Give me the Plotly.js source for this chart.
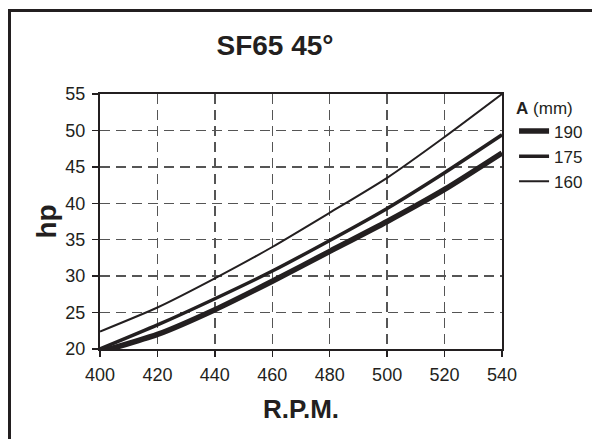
<!DOCTYPE html>
<html>
<head>
<meta charset="utf-8">
<script src="https://cdn.plot.ly/plotly-3.0.1.min.js"></script>
<style>
html,body{margin:0;padding:0;background:#fff;}
#chart{width:592px;height:439px;}
</style>
</head>
<body>
<div id="chart"></div>
<script>
// Data
var rpm = [400, 420, 440, 460, 480, 500, 520, 540];
var hp190 = [19.6, 22.0, 25.4, 29.3, 33.4, 37.5, 41.9, 46.9];
var hp175 = [20.0, 23.3, 26.9, 30.7, 34.9, 39.3, 44.2, 49.4];
var hp160 = [22.4, 25.7, 29.7, 34.0, 38.7, 43.5, 49.1, 55.0];
var seriesNames = ['190', '175', '160'];
var xTicks = [400, 420, 440, 460, 480, 500, 520, 540];
var yTicks = [20, 25, 30, 35, 40, 45, 50, 55];

var ink = '#231f20';
var fontReg = 'Liberation Sans, Arial, sans-serif';
var fontNarrow = 'Liberation Sans Narrow, Liberation Sans, Arial, sans-serif';

var data = [
  {x: rpm, y: hp190, name: seriesNames[0], mode: 'lines', line: {color: ink, width: 5.5, shape: 'spline', smoothing: 0.6}},
  {x: rpm, y: hp175, name: seriesNames[1], mode: 'lines', line: {color: ink, width: 3.5, shape: 'spline', smoothing: 0.6}},
  {x: rpm, y: hp160, name: seriesNames[2], mode: 'lines', line: {color: ink, width: 2, shape: 'spline', smoothing: 0.6}}
];

var layout = {
  width: 592, height: 439,
  margin: {l: 100, r: 90, t: 94, b: 90, pad: 0, autoexpand: false},
  paper_bgcolor: '#fff', plot_bgcolor: '#fff',
  font: {family: fontReg, size: 18, color: ink},
  title: {text: '<b>SF65 45°</b>', x: 275/592, xref: 'container', xanchor: 'center',
          y: 1 - 45/439, yref: 'container', yanchor: 'middle',
          font: {family: fontNarrow, size: 28, color: ink}},
  xaxis: {
    range: [400, 540], tickvals: xTicks, ticktext: xTicks.map(String),
    showline: true, linecolor: ink, linewidth: 2, mirror: true,
    ticks: 'outside', ticklen: 6, tickwidth: 1.5, tickcolor: ink,
    ticklabelstandoff: 2,
    showgrid: true, gridcolor: '#555', gridwidth: 1.5, griddash: '10px,6px',
    zeroline: false, fixedrange: true, automargin: false,
    tickfont: {family: fontReg, size: 18, color: ink},
    title: {text: '<b>R.P.M.</b>', font: {family: fontNarrow, size: 26, color: ink}, standoff: 16}
  },
  yaxis: {
    range: [20, 55], tickvals: yTicks, ticktext: yTicks.map(String),
    showline: true, linecolor: ink, linewidth: 2, mirror: true,
    ticks: 'outside', ticklen: 6, tickwidth: 1.5, tickcolor: ink,
    ticklabelstandoff: 3,
    showgrid: true, gridcolor: '#555', gridwidth: 1.5, griddash: '10px,6px',
    zeroline: false, fixedrange: true, automargin: false,
    tickfont: {family: fontReg, size: 18, color: ink},
    title: {text: '<b>hp</b>', font: {family: fontNarrow, size: 28, color: ink}, standoff: 1}
  },
  showlegend: true,
  legend: {
    x: 1.03, xanchor: 'left', y: 1.01, yanchor: 'top',
    bgcolor: 'rgba(0,0,0,0)', borderwidth: 0,
    itemwidth: 30, tracegroupgap: 0,
    font: {family: fontReg, size: 17, color: ink},
    title: {text: '<b>A</b> (mm)', font: {family: fontReg, size: 17, color: ink}}
  },
  shapes: [
    {type: 'rect', xref: 'paper', yref: 'paper',
     x0: (9.5 - 100)/402, x1: (620 - 100)/402,
     y0: (349 - 470)/255, y1: (349 - 10.5)/255,
     line: {color: ink, width: 3}, fillcolor: 'rgba(0,0,0,0)', layer: 'below'}
  ]
};

Plotly.newPlot('chart', data, layout, {staticPlot: true, displayModeBar: false});
</script>
</body>
</html>
